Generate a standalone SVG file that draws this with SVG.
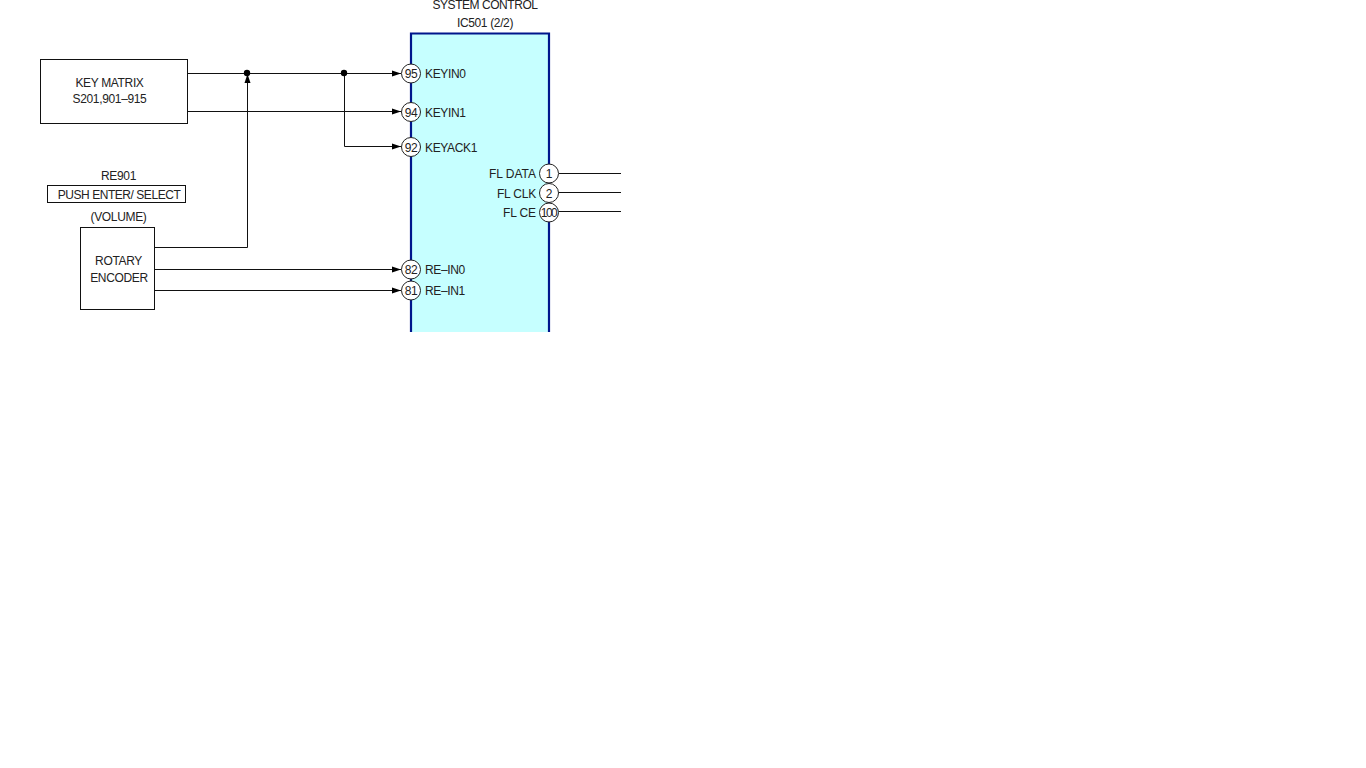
<svg xmlns="http://www.w3.org/2000/svg" width="1366" height="768" viewBox="0 0 1366 768">
<style>
text{font-family:"Liberation Sans",Arial,sans-serif;font-size:12px;fill:#222;letter-spacing:-0.35px}
.m{text-anchor:middle}
.e{text-anchor:end}
.box{fill:#fff;stroke:#111;stroke-width:1}
.pin{fill:#fff;stroke:#222;stroke-width:1}
.w{fill:none;stroke:#111;stroke-width:1}
.d{fill:#000}
</style>
<defs>
<marker id="a" markerUnits="userSpaceOnUse" markerWidth="9" markerHeight="7" refX="9" refY="3.500" orient="auto"><path d="M0 0.500L9 3.500L0 6.500Z" fill="#000"/></marker>
</defs>
<rect width="1366" height="768" fill="#fff"/>
<g id="ic501">
<path d="M411 332V33.500H549V332" fill="#c6ffff"/>
<path d="M411 332V33.500H549V332" fill="none" stroke="#00168c" stroke-width="2.200"/>
<text class="m" x="485" y="8.500" style="letter-spacing:-0.45px">SYSTEM CONTROL</text>
<text class="m" x="485" y="26.500">IC501 (2/2)</text>
</g>
<g id="connectors">
<path class="w" d="M187.500 73.500H401" marker-end="url(#a)"/>
<path class="w" d="M187.500 111.500H401" marker-end="url(#a)"/>
<path class="w" d="M344.500 73.500V146.500H401" marker-end="url(#a)"/>
<path class="w" d="M154.500 247.500H247.500V74" marker-end="url(#a)"/>
<path class="w" d="M154.500 269.500H401" marker-end="url(#a)"/>
<path class="w" d="M154.500 290.500H401" marker-end="url(#a)"/>
<path class="w" d="M559 173.500H621"/>
<path class="w" d="M559 192.500H621"/>
<path class="w" d="M559 211.500H621"/>
<circle class="d" cx="247" cy="73" r="3.200"/>
<circle class="d" cx="344" cy="73" r="3.200"/>
</g>
<g id="key-matrix">
<rect class="box" x="40.500" y="59.500" width="147" height="64"/>
<text class="m" x="109.500" y="86.500">KEY MATRIX</text>
<text class="m" x="109.500" y="102.500">S201,901–915</text>
</g>
<g id="re901">
<text class="m" x="118.500" y="179.500">RE901</text>
<rect class="box" x="47.500" y="185.500" width="138" height="17"/>
<text class="m" x="119" y="198.500" style="letter-spacing:-0.45px">PUSH ENTER/ SELECT</text>
<text class="m" x="118.500" y="220.500">(VOLUME)</text>
</g>
<g id="rotary-encoder">
<rect class="box" x="80.500" y="227.500" width="74" height="82"/>
<text class="m" x="118.500" y="264.500">ROTARY</text>
<text class="m" x="119" y="281.500">ENCODER</text>
</g>
<g id="pin-95"><circle class="pin" cx="411" cy="73.500" r="9.500"/><text class="m" x="411" y="77.500">95</text><text x="425" y="77.500">KEYIN0</text></g>
<g id="pin-94"><circle class="pin" cx="411" cy="112" r="9.500"/><text class="m" x="411" y="116.500">94</text><text x="425" y="116.500">KEYIN1</text></g>
<g id="pin-92"><circle class="pin" cx="411" cy="147" r="9.500"/><text class="m" x="411" y="151.500">92</text><text x="425" y="151.500">KEYACK1</text></g>
<g id="pin-82"><circle class="pin" cx="411" cy="269.500" r="9.500"/><text class="m" x="411" y="273.500">82</text><text x="425" y="273.500">RE–IN0</text></g>
<g id="pin-81"><circle class="pin" cx="411" cy="290.500" r="9.500"/><text class="m" x="411" y="294.500">81</text><text x="425" y="294.500">RE–IN1</text></g>
<g id="pin-1"><circle class="pin" cx="549" cy="173.500" r="9.500"/><text class="m" x="549" y="177.500">1</text><text class="e" x="536" y="177.500" style="letter-spacing:0">FL DATA</text></g>
<g id="pin-2"><circle class="pin" cx="549" cy="193" r="9.500"/><text class="m" x="549" y="197.500">2</text><text class="e" x="536" y="197.500" style="letter-spacing:-0.2px">FL CLK</text></g>
<g id="pin-100"><circle class="pin" cx="549" cy="212.500" r="9.500"/><text class="m" x="548.500" y="216.500" style="letter-spacing:-1.5px">100</text><text class="e" x="536" y="216.500" style="letter-spacing:-0.1px">FL CE</text></g>
</svg>
